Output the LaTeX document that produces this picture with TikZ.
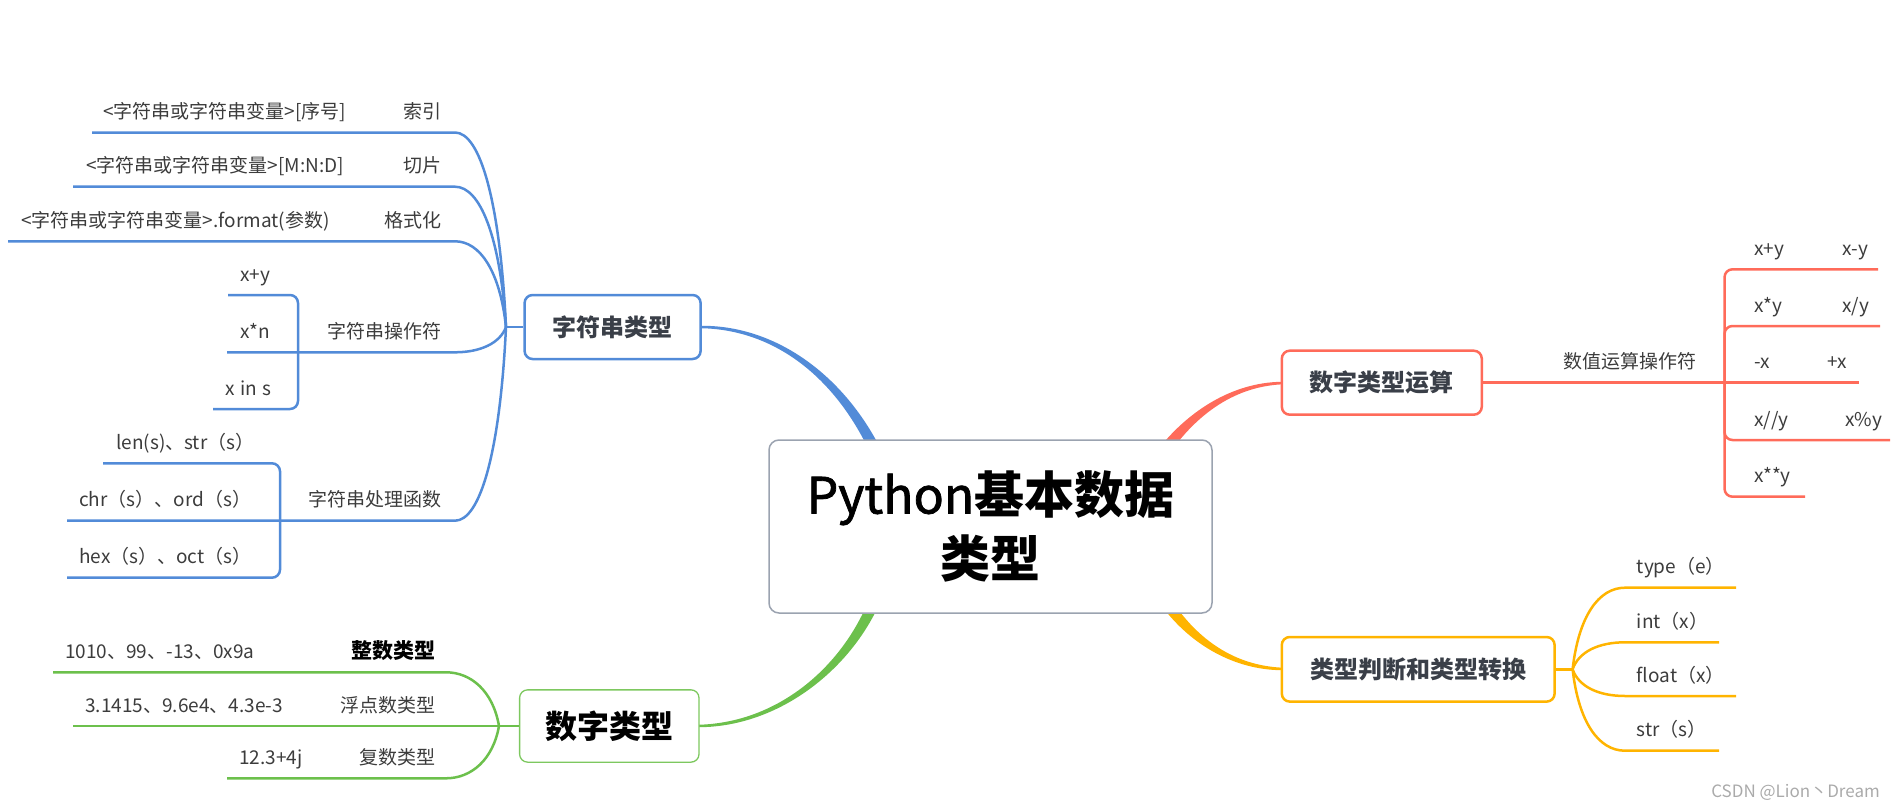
\documentclass[tikz,border=0pt]{standalone}
\usepackage{fontspec}
\setmainfont{Noto Sans CJK SC}
\definecolor{cblue}{RGB}{82,139,216}
\definecolor{cgreen}{RGB}{108,192,76}
\definecolor{cgreenb}{RGB}{125,200,95}
\definecolor{cred}{RGB}{255,107,90}
\definecolor{corange}{RGB}{255,180,0}
\definecolor{cgray}{RGB}{155,163,176}
\definecolor{ctext}{RGB}{60,60,60}
\definecolor{csub}{RGB}{58,63,72}
\definecolor{cwm}{RGB}{170,170,170}
\begin{document}
\begin{tikzpicture}[x=1pt,y=-1pt,
  leaf/.style={font=\fontsize{19}{23}\selectfont, text=ctext, inner sep=0pt},
  subbox/.style={draw, fill=white, rounded corners=8pt, line width=2.5pt, inner sep=0pt,
                 font=\fontsize{24}{28}\selectfont\bfseries, text=csub},
  bl/.style={draw=cblue, line width=2.5pt},
  gl/.style={draw=cgreen, line width=2.5pt},
  rl/.style={draw=cred, line width=2.5pt},
  ol/.style={draw=corange, line width=2.5pt},
  rc/.style={rounded corners=8pt}]
\useasboundingbox (0,0) rectangle (1896,808);

% ---------- tapered main connectors ----------
\fill[cblue] (700,325.8) .. controls (775,324.8) and (841.6,374.2) .. (878.9,445.5)
  -- (869.1,450.5) .. controls (834.4,377.8) and (775,329.2) .. (700,328.2) -- cycle;
\fill[cred] (1163.7,442.6) .. controls (1191.9,409.5) and (1235,380.8) .. (1286,381.8)
  -- (1286,384.2) .. controls (1235,385.2) and (1198.1,414.5) .. (1172.3,449.4) -- cycle;
\fill[cgreen] (877,608.9) .. controls (845.6,673.7) and (775,728.2) .. (696,727.2)
  -- (696,724.8) .. controls (775,723.8) and (838.4,670.3) .. (867,604.3) -- cycle;
\fill[corange] (1165.4,610.7) .. controls (1194.8,647.4) and (1238,671.2) .. (1286,670.2)
  -- (1286,667.8) .. controls (1238,666.8) and (1201.2,642.6) .. (1174.2,604.1) -- cycle;

% ---------- root ----------
\node[draw=cgray, fill=white, rounded corners=10pt, line width=1.5pt,
      minimum width=443pt, minimum height=173pt, inner sep=0pt, align=center,
      font=\fontsize{50}{64}\selectfont\bfseries, text=black] (root) at (990.5,526.5)
      {{\mdseries\addfontfeature{FakeBold=1.5}Python}基本数据\\类型};

% ---------- blue branch ----------
\node[subbox, draw=cblue, minimum width=176pt, minimum height=64pt] (str) at (612.6,327) {字符串类型};
\coordinate (J1) at (506,327);
\draw[bl] (str.west) -- (J1);
\coordinate (b1) at (92,132.5);
\coordinate (b2) at (73,186.7);
\coordinate (b3) at (8,241.3);
\coordinate (b4) at (227,352.3);
\coordinate (b5) at (67,520.7);
\draw[bl] (J1) .. controls (500,200.6) and (480,132.5) .. (455,132.5) -- (b1);
\draw[bl] (J1) .. controls (500,235.8) and (480,186.7) .. (455,186.7) -- (b2);
\draw[bl] (J1) .. controls (500,271.3) and (480,241.3) .. (455,241.3) -- (b3);
\draw[bl] (J1) .. controls (500,343.4) and (480,352.3) .. (455,352.3) -- (b4);
\draw[bl] (J1) .. controls (500,452.9) and (480,520.7) .. (455,520.7) -- (b5);
\coordinate (b41) at (228,295);
\coordinate (b43) at (213,409);
\draw[bl, rc] (b41) -- (298,295) -- (298,409) -- (b43);
\coordinate (b51) at (103,463.3);
\coordinate (b53) at (67,577.7);
\draw[bl, rc] (b51) -- (280,463.3) -- (280,577.7) -- (b53);

\node[leaf, anchor=base east] (l1) at (442,118.5) {索引};
\node[leaf, anchor=base west] (l1a) at (103,118.5) {<字符串或字符串变量>[序号]};
\node[leaf, anchor=base east] (l2) at (442,172.7) {切片};
\node[leaf, anchor=base west] (l2a) at (86,172.7) {<字符串或字符串变量>[M:N:D]};
\node[leaf, anchor=base east] (l3) at (442,227.3) {格式化};
\node[leaf, anchor=base west] (l3a) at (21,227.3) {<字符串或字符串变量>.format(参数)};
\node[leaf, anchor=base east] (l4) at (442,338.3) {字符串操作符};
\node[leaf, anchor=base west] (l4a) at (240,281) {x+y};
\node[leaf, anchor=base west] (l4b) at (240,338.3) {x*n};
\node[leaf, anchor=base west] (l4c) at (225,395) {x\hspace{0.3em}in\hspace{0.3em}s};
\node[leaf, anchor=base east] (l5) at (442,506.7) {字符串处理函数};
\node[leaf, anchor=base west] (l5a) at (116,449.3) {len(s)、str（s）};
\node[leaf, anchor=base west] (l5b) at (79,506.7) {chr（s）、ord（s）};
\node[leaf, anchor=base west] (l5c) at (79,563.7) {hex（s）、oct（s）};

% ---------- green branch ----------
\node[draw=cgreenb, fill=white, rounded corners=8pt, line width=1.3pt, inner sep=0pt,
      minimum width=179.4pt, minimum height=72.3pt,
      font=\fontsize{32}{36}\selectfont\bfseries, text=black] (num) at (609.3,726) {数字类型};
\coordinate (J2) at (499,726);
\draw[gl] (num.west) -- (J2);
\coordinate (g1) at (53,672.3);
\coordinate (g2) at (73,726);
\coordinate (g3) at (227,778.3);
\draw[gl] (J2) .. controls (493,691.1) and (471,672.3) .. (446,672.3) -- (g1);
\draw[gl] (J2) -- (g2);
\draw[gl] (J2) .. controls (493,760) and (471,778.3) .. (446,778.3) -- (g3);
\node[inner sep=0pt, anchor=base east, font=\fontsize{21}{25}\selectfont\bfseries, text=black] (n1) at (436,658.3) {整数类型};
\node[leaf, anchor=base west] (n1a) at (65,658.3) {1010、99、-13、0x9a};
\node[leaf, anchor=base east] (n2) at (436,712) {浮点数类型};
\node[leaf, anchor=base west] (n2a) at (85,712) {3.1415、9.6e4、4.3e-3};
\node[leaf, anchor=base east] (n3) at (436,764.3) {复数类型};
\node[leaf, anchor=base west] (n3a) at (239,764.3) {12.3+4j};

% ---------- red branch ----------
\node[subbox, draw=cred, minimum width=200pt, minimum height=64pt] (ops) at (1381.8,382.7) {数字类型运算};
\coordinate (r3) at (1859,382.7);
\draw[rl] (ops.east) -- (r3);
\coordinate (r1) at (1878,269.3);
\coordinate (r2) at (1880,326);
\coordinate (r4) at (1890,440);
\coordinate (r5) at (1805,496.7);
\draw[rl, rc] (r1) -- (1724.5,269.3) -- (1724.5,496.7) -- (r5);
\draw[rl, rc] (r2) -- (1724.5,326) -- (1724.5,382.7);
\draw[rl, rc] (r4) -- (1724.5,440) -- (1724.5,382.7);
\node[leaf, anchor=base west] (o0) at (1563,368.7) {数值运算操作符};
\node[leaf, anchor=base west] (o1a) at (1754,255.3) {x+y};
\node[leaf, anchor=base west] (o1b) at (1842,255.3) {x-y};
\node[leaf, anchor=base west] (o2a) at (1754,312) {x*y};
\node[leaf, anchor=base west] (o2b) at (1842,312) {x/y};
\node[leaf, anchor=base west] (o3a) at (1754,368.7) {-x};
\node[leaf, anchor=base west] (o3b) at (1827,368.7) {+x};
\node[leaf, anchor=base west] (o4a) at (1754,426) {x//y};
\node[leaf, anchor=base west] (o4b) at (1845,426) {x\%y};
\node[leaf, anchor=base west] (o5a) at (1754,482.7) {x**y};

% ---------- orange branch ----------
\node[subbox, draw=corange, minimum width=272.8pt, minimum height=64.6pt] (conv) at (1418.2,669.3) {类型判断和类型转换};
\coordinate (J3) at (1572.6,669.3);
\draw[ol] (conv.east) -- (J3);
\coordinate (y1) at (1736,587.7);
\coordinate (y2) at (1719,642.3);
\coordinate (y3) at (1736,696);
\coordinate (y4) at (1719,750.7);
\draw[ol] (J3) .. controls (1578.6,616.3) and (1598.6,587.7) .. (1625,587.7) -- (y1);
\draw[ol] (J3) .. controls (1578.6,651.75) and (1598.6,642.3) .. (1625,642.3) -- (y2);
\draw[ol] (J3) .. controls (1578.6,686.65) and (1598.6,696) .. (1625,696) -- (y3);
\draw[ol] (J3) .. controls (1578.6,722.2) and (1598.6,750.7) .. (1625,750.7) -- (y4);
\node[leaf, anchor=base west] (t1) at (1636.7,573.7) {type（e）};
\node[leaf, anchor=base west] (t2) at (1636.7,628.3) {int（x）};
\node[leaf, anchor=base west] (t3) at (1636.7,682) {float（x）};
\node[leaf, anchor=base west] (t4) at (1636.7,736.7) {str（s）};

% ---------- watermark ----------
\node[inner sep=0pt, anchor=base east, font=\fontsize{17}{20}\selectfont, text=cwm] (wm) at (1880,797) {CSDN @Lion丶Dream};
\end{tikzpicture}
\end{document}
